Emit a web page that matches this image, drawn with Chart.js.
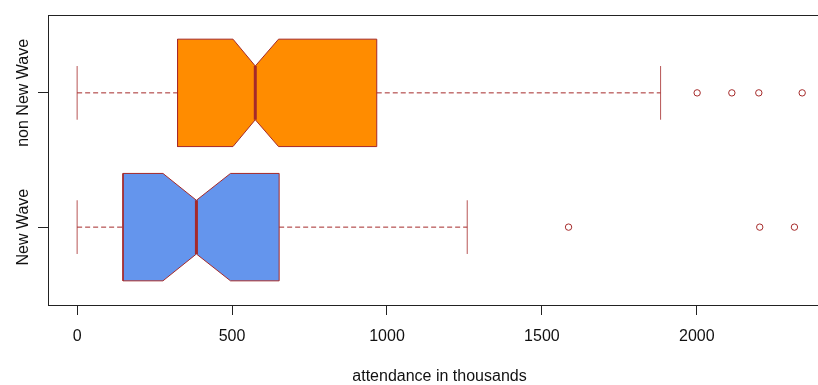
<!DOCTYPE html>
<html>
<head>
<meta charset="utf-8">
<script src="https://cdn.jsdelivr.net/npm/chart.js@4.4.1/dist/chart.umd.min.js"></script>
<style>
  html, body { margin: 0; padding: 0; overflow: hidden; background: #fff; }
  canvas { display: block; }
</style>
</head>
<body>
<canvas id="chart" width="836" height="385"></canvas>
<script>
// Attendance (thousands) summary per group: box = quartiles, notch = median CI
const categories    = ['New Wave', 'non New Wave'];
const whiskerLow    = [0, 0];
const lowerQuartile = [148, 324];
const notchLow      = [277, 503];
const medians       = [385, 575];
const notchHigh     = [495, 650];
const upperQuartile = [652, 967];
const whiskerHigh   = [1259, 1883];
const outliers      = [[1586, 2203, 2315], [2001, 2113, 2200, 2340]];
const xTickValues   = [0, 500, 1000, 1500, 2000];
const boxFill       = ['#6495ED', '#FF8C00'];

const LINE = '#A52A2A';
const FONT = "'Liberation Sans', Arial, sans-serif";
const TEXT = '#111';
const HALF_BOX = 0.4, HALF_NOTCH = 0.2, HALF_STAPLE = 0.2;

const pts = arr => arr.map(([x, y]) => ({ x, y }));
const datasets = [];

categories.forEach((name, i) => {
  const c = i + 1;
  // notched box outline
  datasets.push({
    label: name + ' box',
    data: pts([
      [lowerQuartile[i], c - HALF_BOX], [notchLow[i], c - HALF_BOX], [medians[i], c - HALF_NOTCH],
      [notchHigh[i], c - HALF_BOX], [upperQuartile[i], c - HALF_BOX], [upperQuartile[i], c + HALF_BOX],
      [notchHigh[i], c + HALF_BOX], [medians[i], c + HALF_NOTCH], [notchLow[i], c + HALF_BOX],
      [lowerQuartile[i], c + HALF_BOX], [lowerQuartile[i], c - HALF_BOX]
    ]),
    showLine: true, fill: 'shape', backgroundColor: boxFill[i],
    borderColor: LINE, borderWidth: 1, pointRadius: 0, tension: 0, order: 4
  });
  // dashed whiskers
  [[whiskerLow[i], lowerQuartile[i]], [upperQuartile[i], whiskerHigh[i]]].forEach(([a, b]) => {
    datasets.push({
      label: name + ' whisker',
      data: pts([[a, c], [b, c]]),
      showLine: true, borderColor: LINE, borderWidth: 1, borderDash: [5, 3],
      pointRadius: 0, order: 3
    });
  });
  // whisker end staples
  [whiskerLow[i], whiskerHigh[i]].forEach(v => {
    datasets.push({
      label: name + ' staple',
      data: pts([[v, c - HALF_STAPLE], [v, c + HALF_STAPLE]]),
      showLine: true, borderColor: 'rgba(165,42,42,0.8)', borderWidth: 1, pointRadius: 0, order: 2
    });
  });
  // median bar
  datasets.push({
    label: name + ' median',
    data: pts([[medians[i], c - HALF_NOTCH], [medians[i], c + HALF_NOTCH]]),
    showLine: true, borderColor: LINE, borderWidth: 3, borderCapStyle: 'butt',
    pointRadius: 0, order: 1
  });
  // outlying values
  datasets.push({
    label: name + ' outliers',
    data: outliers[i].map(v => ({ x: v, y: c })),
    showLine: false, pointStyle: 'circle', pointRadius: 3.2,
    borderColor: LINE, borderWidth: 1, backgroundColor: 'rgba(0,0,0,0)', order: 0
  });
});

// plot frame and rotated group names
const framePlugin = {
  id: 'frame',
  afterDraw(chart) {
    const { ctx, chartArea: a, scales: { y } } = chart;
    ctx.save();
    ctx.strokeStyle = '#222';
    ctx.lineWidth = 1;
    ctx.strokeRect(a.left + 0.5, a.top + 0.5, a.right - a.left, a.bottom - a.top);
    ctx.fillStyle = TEXT;
    ctx.font = '16px ' + FONT;
    ctx.textAlign = 'center';
    ctx.textBaseline = 'alphabetic';
    categories.forEach((name, i) => {
      ctx.save();
      ctx.translate(28.3, y.getPixelForValue(i + 1));
      ctx.rotate(-Math.PI / 2);
      ctx.fillText(name, 0, 0);
      ctx.restore();
    });
    ctx.restore();
  }
};

new Chart(document.getElementById('chart'), {
  type: 'scatter',
  data: { datasets },
  plugins: [framePlugin],
  options: {
    responsive: false,
    animation: false,
    layout: { padding: { top: 15, right: 1, left: 0, bottom: 0 } },
    plugins: { legend: { display: false }, tooltip: { enabled: false } },
    scales: {
      x: {
        type: 'linear', min: -94, max: 2433,
        afterBuildTicks: s => { s.ticks = xTickValues.map(value => ({ value })); },
        afterFit: s => { s.height = 80; },
        border: { display: false },
        grid: { drawOnChartArea: false, drawTicks: true, tickLength: 10, color: '#222' },
        ticks: {
          color: TEXT, font: { family: FONT, size: 16, lineHeight: 1.2 }, padding: 12, maxRotation: 0,
          callback: v => String(v)
        },
        title: {
          display: true, text: 'attendance in thousands', color: TEXT,
          font: { family: FONT, size: 16, lineHeight: 1 }, padding: { top: 0, bottom: 0 }
        }
      },
      y: {
        type: 'linear', min: 0.42, max: 2.58,
        afterBuildTicks: s => { s.ticks = categories.map((_, i) => ({ value: i + 1 })); },
        afterFit: s => { s.width = 48; },
        border: { display: false },
        grid: { drawOnChartArea: false, drawTicks: true, tickLength: 10, color: '#222' },
        ticks: { display: false }
      }
    }
  }
});
</script>
</body>
</html>
